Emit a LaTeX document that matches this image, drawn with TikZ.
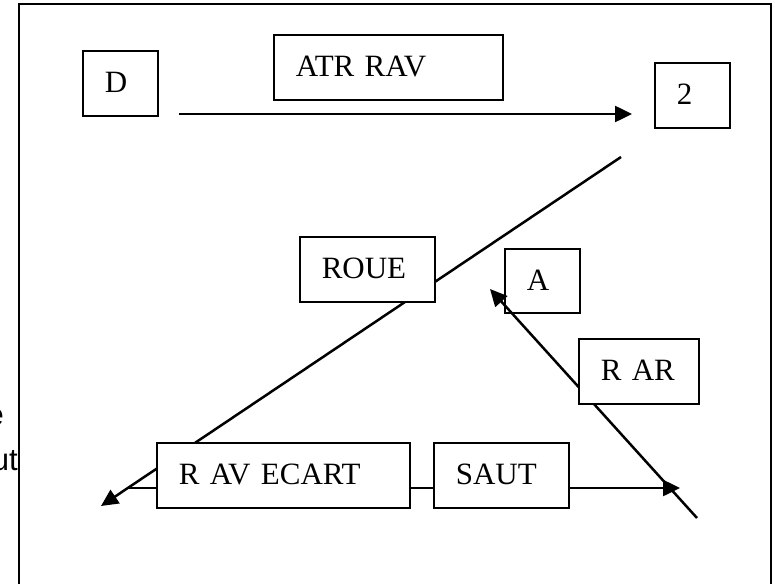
\documentclass[tikz,border=0pt]{standalone}
\usepackage{fontspec}
\setmainfont{Liberation Serif}
\newfontfamily\sansf{Liberation Sans}
\usetikzlibrary{arrows.meta}
\begin{document}
\begin{tikzpicture}[x=1pt,y=-1pt,
  bx/.style={draw, line width=1.6pt, fill=white, anchor=north west,
    inner xsep=22pt, inner ysep=0pt, text height=42pt, text depth=23pt,
    align=left, font=\fontsize{31}{36}\selectfont},
  conn/.style={line width=2.5pt, -{Triangle[length=17pt,width=16pt]}},
  frameline/.style={line width=1.8pt},
  sidetext/.style={anchor=base east, inner sep=0pt, font=\sansf\fontsize{31}{36}\selectfont}]
\useasboundingbox (0,0) rectangle (775,583);
\clip (0,0) rectangle (775,583);
\fill[white] (0,0) rectangle (775,583);
% frame
\draw[frameline] (19,600) -- (19,4) -- (771,4) -- (771,600);
% clipped side text
\node[sidetext] (le) at (4,425) {e};
\node[sidetext] (lu) at (18,470) {ut};
% connector end points
\coordinate (t1) at (179,114); \coordinate (t2) at (632,114);
\coordinate (g1) at (621,157); \coordinate (g2) at (101,506);
\coordinate (h1) at (127,488); \coordinate (h2) at (680,488);
\coordinate (r1) at (697,518); \coordinate (r2) at (490,289);
% connectors behind boxes
\draw[conn] (t1) -- (t2);
\draw[conn] (g1) -- (g2);
\draw[conn] (h1) -- (h2);
% boxes
\node[bx, text width=31pt] (d) at (82,50) {D};
\node[bx, text width=185pt] (atr) at (273,34) {ATR RAV};
\node[bx, text width=31pt] (two) at (654,62) {2};
\node[bx, text width=91pt] (roue) at (299,236) {ROUE};
\node[bx, text width=31pt, text depth=22pt] (a) at (504,248) {A};
\node[bx, text width=209pt] (rav) at (156,442) {R AV ECART};
\node[bx, text width=91pt] (saut) at (433,442) {SAUT};
\draw[conn] (r1) -- (r2);
\node[bx, text width=76pt] (rar) at (578,338) {R AR};
\end{tikzpicture}
\end{document}
